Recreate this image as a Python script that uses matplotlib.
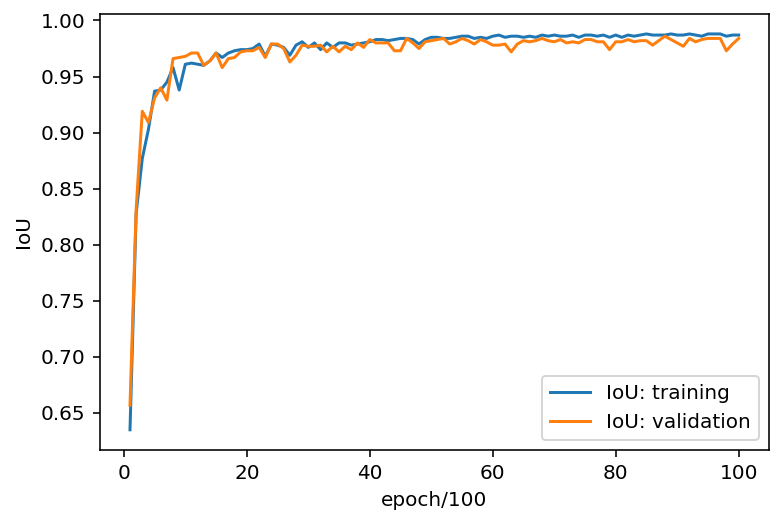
import matplotlib
matplotlib.use("Agg")
import matplotlib.pyplot as plt

# IoU per epoch
epochs = list(range(1, 101))

iou_train = [
    0.635, 0.828, 0.877, 0.903, 0.937, 0.938, 0.945, 0.958, 0.938, 0.961,
    0.962, 0.961, 0.960, 0.964, 0.971, 0.967, 0.971, 0.973, 0.974, 0.974,
    0.975, 0.979, 0.968, 0.979, 0.978, 0.976, 0.969, 0.978, 0.981, 0.976,
    0.980, 0.974, 0.980, 0.976, 0.980, 0.980, 0.978, 0.979, 0.980, 0.981,
    0.983, 0.983, 0.982, 0.983, 0.984, 0.984, 0.983, 0.979, 0.983, 0.985,
    0.985, 0.984, 0.984, 0.985, 0.986, 0.986, 0.984, 0.985, 0.984, 0.986,
    0.987, 0.985, 0.986, 0.986, 0.985, 0.986, 0.985, 0.987, 0.986, 0.987,
    0.986, 0.986, 0.987, 0.985, 0.987, 0.987, 0.986, 0.987, 0.985, 0.987,
    0.985, 0.987, 0.986, 0.987, 0.988, 0.987, 0.987, 0.987, 0.988, 0.987,
    0.987, 0.988, 0.987, 0.986, 0.988, 0.988, 0.988, 0.986, 0.987, 0.987,
]

iou_val = [
    0.657, 0.832, 0.919, 0.909, 0.931, 0.940, 0.929, 0.966, 0.967, 0.968,
    0.971, 0.971, 0.960, 0.964, 0.971, 0.958, 0.966, 0.967, 0.972, 0.973,
    0.973, 0.976, 0.967, 0.979, 0.979, 0.975, 0.963, 0.969, 0.978, 0.977,
    0.977, 0.978, 0.972, 0.977, 0.972, 0.977, 0.974, 0.980, 0.976, 0.983,
    0.980, 0.980, 0.980, 0.973, 0.973, 0.984, 0.980, 0.975, 0.981, 0.982,
    0.983, 0.984, 0.979, 0.981, 0.984, 0.982, 0.979, 0.983, 0.981, 0.978,
    0.978, 0.979, 0.972, 0.979, 0.982, 0.981, 0.982, 0.984, 0.982, 0.981,
    0.983, 0.980, 0.981, 0.980, 0.983, 0.983, 0.981, 0.981, 0.974, 0.981,
    0.981, 0.983, 0.981, 0.982, 0.982, 0.978, 0.982, 0.986, 0.983, 0.980,
    0.977, 0.984, 0.981, 0.983, 0.984, 0.984, 0.984, 0.973, 0.979, 0.984,
]

fig = plt.figure(figsize=(784 / 144, 524 / 144), dpi=144)
ax = fig.add_subplot(111)
fig.subplots_adjust(left=0.127, right=0.981, top=0.973, bottom=0.142)

ax.plot(epochs, iou_train, label="IoU: training")
ax.plot(epochs, iou_val, label="IoU: validation")
ax.set_xlabel("epoch/100")
ax.set_ylabel("IoU")
ax.legend(loc="lower right")

fig.savefig("out.png", dpi=144)
